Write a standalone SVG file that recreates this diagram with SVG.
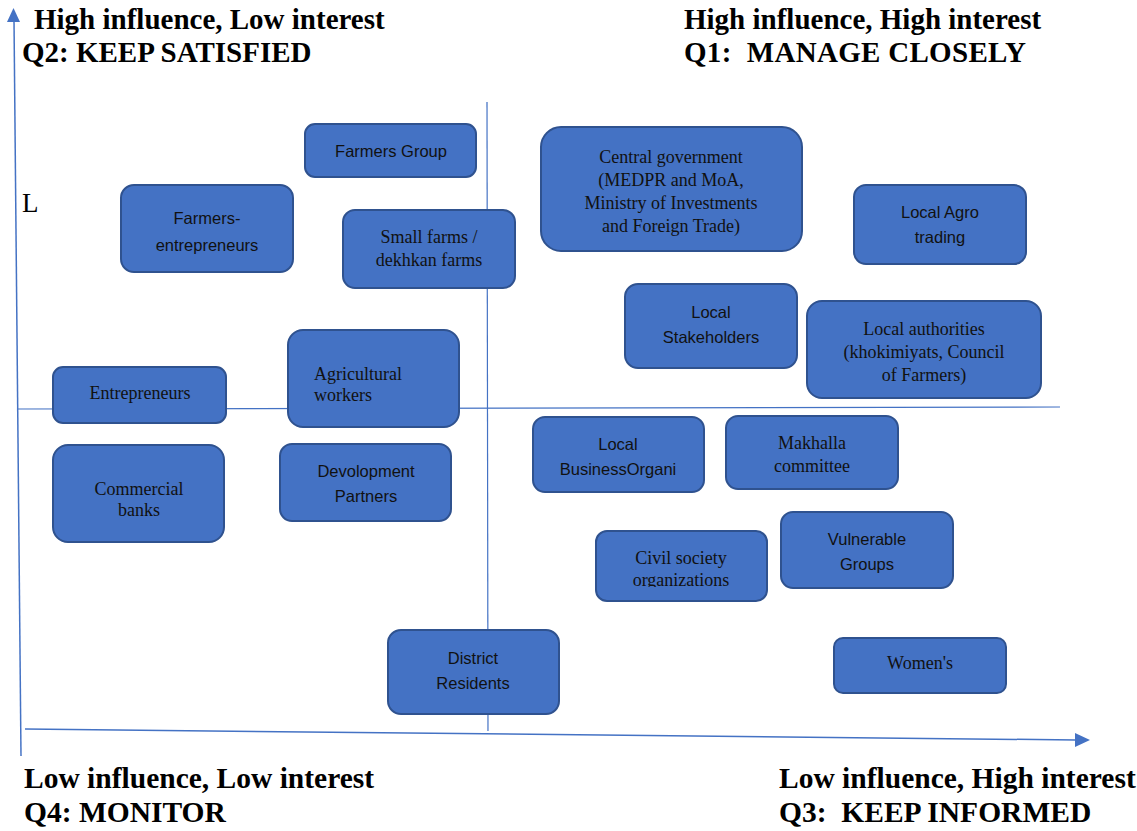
<svg xmlns="http://www.w3.org/2000/svg" width="1137" height="831" viewBox="0 0 1137 831">
<style>
.box{fill:#4472C4;stroke:#2F528F;stroke-width:2}
.sans{font-family:"Liberation Sans",Arial,sans-serif;font-size:16.5px;fill:#111;text-anchor:middle}
.serif{font-family:"Liberation Serif","Times New Roman",serif;font-size:18px;fill:#111;text-anchor:middle}
.title{font-family:"Liberation Serif","Times New Roman",serif;font-size:29px;font-weight:bold;fill:#000}
.btitle{font-family:"Liberation Serif","Times New Roman",serif;font-size:29.5px;font-weight:bold;fill:#000}
.axis{stroke:#4472C4;stroke-width:1.5;fill:none}
.grid{stroke:#4472C4;stroke-width:1.2;fill:none}
.head{fill:#4472C4}
</style>
<defs>
<clipPath id="civclip"><rect x="596" y="531" width="171" height="56"/></clipPath>
</defs>
<rect width="1137" height="831" fill="#fff"/>
<g id="connectors">
<line class="grid" x1="487" y1="102" x2="488" y2="731"/>
<line class="grid" x1="18" y1="409" x2="1060" y2="407"/>
<line class="axis" x1="14" y1="20" x2="21" y2="756"/>
<polygon class="head" points="13.5,8 7,22 20,22"/>
<line class="axis" x1="25" y1="729" x2="1076" y2="740"/>
<polygon class="head" points="1090,740 1075,733 1075,747"/>
</g>
<g id="titles">
<text class="title" x="34" y="29">High influence, Low interest</text>
<text class="title" x="22" y="62">Q2: KEEP SATISFIED</text>
<text class="title" x="684" y="29">High influence, High interest</text>
<text class="title" x="684" y="62" xml:space="preserve" textLength="342">Q1:  MANAGE CLOSELY</text>
<text class="btitle" x="24" y="788">Low influence, Low interest</text>
<text class="btitle" x="24" y="822">Q4: MONITOR</text>
<text class="btitle" x="779" y="788">Low influence, High interest</text>
<text class="btitle" x="779" y="822" xml:space="preserve">Q3:  KEEP INFORMED</text>
<text x="22" y="212" style="font-family:'Liberation Serif','Times New Roman',serif;font-size:27px;fill:#000">L</text>
</g>
<g id="farmers-group">
<rect class="box" x="305" y="124" width="171" height="53" rx="10"/>
<text class="sans" x="391" y="157">Farmers Group</text>
</g>
<g id="farmers-entrepreneurs">
<rect class="box" x="121" y="185" width="172" height="87" rx="13"/>
<text class="sans" x="207" y="224">Farmers-</text>
<text class="sans" x="207" y="251">entrepreneurs</text>
</g>
<g id="small-farms">
<rect class="box" x="343" y="210" width="172" height="78" rx="12"/>
<text class="serif" x="429" y="243">Small farms /</text>
<text class="serif" x="429" y="266">dekhkan farms</text>
</g>
<g id="central-government">
<rect class="box" x="541" y="127" width="261" height="124" rx="20"/>
<text class="serif" x="671" y="163">Central government</text>
<text class="serif" x="671" y="186">(MEDPR and MoA,</text>
<text class="serif" x="671" y="209">Ministry of Investments</text>
<text class="serif" x="671" y="232">and Foreign Trade)</text>
</g>
<g id="local-agro-trading">
<rect class="box" x="854" y="185" width="172" height="79" rx="12"/>
<text class="sans" x="940" y="218">Local Agro</text>
<text class="sans" x="940" y="243">trading</text>
</g>
<g id="local-stakeholders">
<rect class="box" x="625" y="284" width="172" height="84" rx="13"/>
<text class="sans" x="711" y="318">Local</text>
<text class="sans" x="711" y="343">Stakeholders</text>
</g>
<g id="local-authorities">
<rect class="box" x="807" y="301" width="234" height="97" rx="15"/>
<text class="serif" x="924" y="335">Local authorities</text>
<text class="serif" x="924" y="358">(khokimiyats, Council</text>
<text class="serif" x="924" y="381">of Farmers)</text>
</g>
<g id="entrepreneurs">
<rect class="box" x="53" y="367" width="173" height="56" rx="10"/>
<text class="serif" x="140" y="399">Entrepreneurs</text>
</g>
<g id="agricultural-workers">
<rect class="box" x="288" y="330" width="171" height="97" rx="15"/>
<text class="serif" x="314" y="380" style="text-anchor:start">Agricultural</text>
<text class="serif" x="314" y="401" style="text-anchor:start">workers</text>
</g>
<g id="commercial-banks">
<rect class="box" x="53" y="445" width="171" height="97" rx="15"/>
<text class="serif" x="139" y="495">Commercial</text>
<text class="serif" x="139" y="516">banks</text>
</g>
<g id="development-partners">
<rect class="box" x="280" y="444" width="171" height="77" rx="12"/>
<text class="sans" x="366" y="477">Devolopment</text>
<text class="sans" x="366" y="502">Partners</text>
</g>
<g id="local-business">
<rect class="box" x="533" y="417" width="171" height="75" rx="12"/>
<text class="sans" x="618" y="450">Local</text>
<text class="sans" x="618" y="475">BusinessOrgani</text>
</g>
<g id="makhalla">
<rect class="box" x="726" y="416" width="172" height="73" rx="12"/>
<text class="serif" x="812" y="449">Makhalla</text>
<text class="serif" x="812" y="472">committee</text>
</g>
<g id="civil-society">
<rect class="box" x="596" y="531" width="171" height="70" rx="11"/>
<text class="serif" x="681" y="564">Civil society</text>
<text class="serif" x="681" y="586" clip-path="url(#civclip)">organizations</text>
</g>
<g id="vulnerable-groups">
<rect class="box" x="781" y="512" width="172" height="76" rx="12"/>
<text class="sans" x="867" y="545">Vulnerable</text>
<text class="sans" x="867" y="570">Groups</text>
</g>
<g id="district-residents">
<rect class="box" x="388" y="630" width="171" height="84" rx="13"/>
<text class="sans" x="473" y="664">District</text>
<text class="sans" x="473" y="689">Residents</text>
</g>
<g id="womens">
<rect class="box" x="834" y="638" width="172" height="55" rx="9"/>
<text class="serif" x="920" y="669">Women's</text>
</g>
</svg>
